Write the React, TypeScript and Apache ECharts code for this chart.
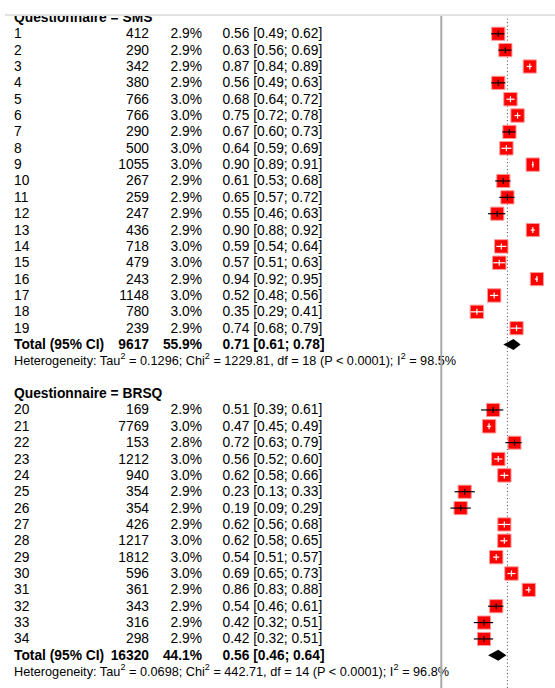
import React, { useEffect, useRef } from 'react';
import * as echarts from 'echarts';

// ---------- DATA ----------
const smsStudies = ['1', '2', '3', '4', '5', '6', '7', '8', '9', '10', '11', '12', '13', '14', '15', '16', '17', '18', '19'];
const smsTotal = [412, 290, 342, 380, 766, 766, 290, 500, 1055, 267, 259, 247, 436, 718, 479, 243, 1148, 780, 239];
const smsWeight = [2.9, 2.9, 2.9, 2.9, 3.0, 3.0, 2.9, 3.0, 3.0, 2.9, 2.9, 2.9, 2.9, 3.0, 3.0, 2.9, 3.0, 3.0, 2.9];
const smsCor = [0.56, 0.63, 0.87, 0.56, 0.68, 0.75, 0.67, 0.64, 0.90, 0.61, 0.65, 0.55, 0.90, 0.59, 0.57, 0.94, 0.52, 0.35, 0.74];
const smsLower = [0.49, 0.56, 0.84, 0.49, 0.64, 0.72, 0.60, 0.59, 0.89, 0.53, 0.57, 0.46, 0.88, 0.54, 0.51, 0.92, 0.48, 0.29, 0.68];
const smsUpper = [0.62, 0.69, 0.89, 0.63, 0.72, 0.78, 0.73, 0.69, 0.91, 0.68, 0.72, 0.63, 0.92, 0.64, 0.63, 0.95, 0.56, 0.41, 0.79];
const smsSummary = [9617, 55.9, 0.71, 0.61, 0.78]; // N, weight %, estimate, lower, upper
const smsHet = ['0.1296', '1229.81', '18', '< 0.0001', '98.5%']; // tau2, chi2, df, p, I2

const brsqStudies = ['20', '21', '22', '23', '24', '25', '26', '27', '28', '29', '30', '31', '32', '33', '34'];
const brsqTotal = [169, 7769, 153, 1212, 940, 354, 354, 426, 1217, 1812, 596, 361, 343, 316, 298];
const brsqWeight = [2.9, 3.0, 2.8, 3.0, 3.0, 2.9, 2.9, 2.9, 3.0, 3.0, 3.0, 2.9, 2.9, 2.9, 2.9];
const brsqCor = [0.51, 0.47, 0.72, 0.56, 0.62, 0.23, 0.19, 0.62, 0.62, 0.54, 0.69, 0.86, 0.54, 0.42, 0.42];
const brsqLower = [0.39, 0.45, 0.63, 0.52, 0.58, 0.13, 0.09, 0.56, 0.58, 0.51, 0.65, 0.83, 0.46, 0.32, 0.32];
const brsqUpper = [0.61, 0.49, 0.79, 0.60, 0.66, 0.33, 0.29, 0.68, 0.65, 0.57, 0.73, 0.88, 0.61, 0.51, 0.51];
const brsqSummary = [16320, 44.1, 0.56, 0.46, 0.64];
const brsqHet = ['0.0698', '442.71', '14', '< 0.0001', '96.8%'];

const groupNames = ['SMS', 'BRSQ'];
const nullValue = 0;
const overallEstimate = 0.65;

// ---------- LAYOUT CONSTANTS ----------
const FONT = '"Liberation Sans", Arial, Helvetica, sans-serif';
const ROW_FS = 13.8;
const HET_FS = 12.7;
const COL_LABEL = 14;
const COL_N = 149;
const COL_W = 202;
const COL_EST = 222.5;
const Y_MIN = -1;
const Y_MAX = 41;
const ROW_H = 16.63;
const GRID_TOP = 17.7 - ROW_H;
const GRID_H = (Y_MAX - Y_MIN) * ROW_H;
const PLOT_LEFT = 441.3;
const PX_PER_UNIT = 101.7;
const X_MAX = 1.1;

type Row = {
  i: number;
  kind: 'header' | 'study' | 'total' | 'het';
  label?: string;
  n?: number;
  w?: number;
  est?: number;
  lo?: number;
  hi?: number;
  het?: string[];
};

function buildRows(): Row[] {
  const groups = [
    { studies: smsStudies, total: smsTotal, weight: smsWeight, cor: smsCor, lower: smsLower, upper: smsUpper, summary: smsSummary, het: smsHet },
    { studies: brsqStudies, total: brsqTotal, weight: brsqWeight, cor: brsqCor, lower: brsqLower, upper: brsqUpper, summary: brsqSummary, het: brsqHet },
  ];
  const rows: Row[] = [];
  let idx = 0;
  groups.forEach((g, gi) => {
    if (gi > 0) idx += 1;
    rows.push({ i: idx++, kind: 'header', label: 'Questionnaire = ' + groupNames[gi] });
    g.studies.forEach((s, k) => {
      rows.push({ i: idx++, kind: 'study', label: s, n: g.total[k], w: g.weight[k], est: g.cor[k], lo: g.lower[k], hi: g.upper[k] });
    });
    rows.push({ i: idx++, kind: 'total', label: 'Total (95% CI)', n: g.summary[0], w: g.summary[1], est: g.summary[2], lo: g.summary[3], hi: g.summary[4] });
    rows.push({ i: idx++, kind: 'het', het: g.het });
  });
  return rows;
}

const fmtCI = (e: number, l: number, u: number) => `${e.toFixed(2)} [${l.toFixed(2)}; ${u.toFixed(2)}]`;

export default function App() {
  const ref = useRef<HTMLDivElement>(null);
  useEffect(() => {
    if (!ref.current) return;
    const chart = echarts.init(ref.current, undefined, { renderer: 'svg' });
    const rows = buildRows();
    const studyRows = rows.filter((r) => r.kind === 'study');
    const totalRows = rows.filter((r) => r.kind === 'total');

    const textRender = (params: any, api: any) => {
      const r = rows[params.dataIndex];
      const y = api.coord([0, r.i])[1];
      const cx = (v: number) => api.coord([v, r.i])[0];
      const children: any[] = [];
      const mk = (text: string, x: number, align: string, bold: boolean) => ({
        type: 'text',
        x,
        y,
        style: {
          text,
          fill: '#000',
          fontSize: ROW_FS,
          fontFamily: FONT,
          fontWeight: bold ? 'bold' : 'normal',
          align,
          verticalAlign: 'middle',
        },
      });
      if (r.kind === 'header') {
        children.push(mk(r.label!, cx(COL_LABEL), 'left', true));
      } else if (r.kind === 'study' || r.kind === 'total') {
        const b = r.kind === 'total';
        children.push(mk(r.label!, cx(COL_LABEL), 'left', b));
        children.push(mk(String(r.n), cx(COL_N), 'right', b));
        children.push(mk(r.w!.toFixed(1) + '%', cx(COL_W), 'right', b));
        children.push(mk(fmtCI(r.est!, r.lo!, r.hi!), cx(COL_EST), 'left', b));
      } else {
        const h = r.het!;
        const text =
          `{n|Heterogeneity: Tau}{s|2}{n| = ${h[0]}; Chi}{s|2}{n| = ${h[1]}, df = ${h[2]} (P ${h[3]}); I}{s|2}{n| = ${h[4]}}`;
        children.push({
          type: 'text',
          x: cx(COL_LABEL),
          y,
          style: {
            text,
            align: 'left',
            verticalAlign: 'middle',
            fontFamily: FONT,
            rich: {
              n: { fontSize: HET_FS, fontFamily: FONT, fill: '#000', lineHeight: 18, verticalAlign: 'middle' },
              s: { fontSize: 9, fontFamily: FONT, fill: '#000', lineHeight: 11, verticalAlign: 'top' },
            },
          },
        });
      }
      return { type: 'group', children };
    };

    const squareRender = (params: any, api: any) => {
      const est = api.value(0);
      const lo = api.value(1);
      const hi = api.value(2);
      const i = api.value(3);
      const w = api.value(4);
      const [x, y] = api.coord([est, i]);
      const xl = api.coord([lo, i])[0];
      const xh = api.coord([hi, i])[0];
      const s = 13.4 * Math.sqrt(w / 3.0);
      const inside = xh - xl < 13 * Math.sqrt(w / 3.0);
      const lineColor = inside ? '#ffffff' : '#000000';
      return {
        type: 'group',
        children: [
          {
            type: 'rect',
            shape: { x: x - s / 2, y: y - s / 2, width: s, height: s },
            style: { fill: '#ff0000', stroke: '#ff9a9a', lineWidth: 1 },
          },
          {
            type: 'line',
            shape: { x1: xl, y1: y, x2: xh, y2: y },
            style: { stroke: lineColor, lineWidth: 1.2 },
          },
          {
            type: 'line',
            shape: { x1: x, y1: y - 3, x2: x, y2: y + 3 },
            style: { stroke: lineColor, lineWidth: 1.2 },
          },
        ],
      };
    };

    const diamondRender = (params: any, api: any) => {
      const est = api.value(0);
      const lo = api.value(1);
      const hi = api.value(2);
      const i = api.value(3);
      const [x, y] = api.coord([est, i]);
      const xl = api.coord([lo, i])[0];
      const xh = api.coord([hi, i])[0];
      return {
        type: 'polygon',
        shape: { points: [[xl, y], [x, y - 5.5], [xh, y], [x, y + 5.5]] },
        style: { fill: '#000' },
      };
    };

    const vlineRender = (color: string, width: number, dash: any) => (params: any, api: any) => {
      const v = api.value(0);
      const p1 = api.coord([v, Y_MIN]);
      const p2 = api.coord([v, Y_MAX]);
      return {
        type: 'line',
        shape: { x1: p1[0], y1: p1[1], x2: p2[0], y2: p2[1] },
        style: { stroke: color, lineWidth: width, lineDash: dash },
      };
    };

    const yAxisBase = {
      type: 'value',
      min: Y_MIN,
      max: Y_MAX,
      inverse: true,
      show: false,
    };

    chart.setOption({
      animation: false,
      grid: [
        { left: 0, top: GRID_TOP, width: 555, height: GRID_H },
        { left: PLOT_LEFT, top: GRID_TOP, width: X_MAX * PX_PER_UNIT, height: GRID_H },
      ],
      xAxis: [
        { type: 'value', gridIndex: 0, min: 0, max: 555, show: false },
        { type: 'value', gridIndex: 1, min: 0, max: X_MAX, show: false },
      ],
      yAxis: [
        { ...yAxisBase, gridIndex: 0 },
        { ...yAxisBase, gridIndex: 1 },
      ],
      series: [
        {
          type: 'custom',
          xAxisIndex: 0,
          yAxisIndex: 0,
          z: 2,
          renderItem: textRender,
          data: rows.map((r) => [0, r.i]),
          encode: { x: 0, y: 1 },
          silent: true,
        },
        {
          type: 'custom',
          xAxisIndex: 1,
          yAxisIndex: 1,
          z: 3,
          renderItem: vlineRender('#444444', 1, [1, 2.5]),
          data: [[overallEstimate]],
          encode: { x: 0 },
          silent: true,
        },
        {
          type: 'custom',
          xAxisIndex: 1,
          yAxisIndex: 1,
          z: 4,
          renderItem: squareRender,
          data: studyRows.map((r) => [r.est, r.lo, r.hi, r.i, r.w]),
          encode: { x: [0, 1, 2], y: 3 },
          silent: true,
        },
        {
          type: 'custom',
          xAxisIndex: 1,
          yAxisIndex: 1,
          z: 4,
          renderItem: diamondRender,
          data: totalRows.map((r) => [r.est, r.lo, r.hi, r.i]),
          encode: { x: [0, 1, 2], y: 3 },
          silent: true,
        },
        {
          type: 'custom',
          xAxisIndex: 1,
          yAxisIndex: 1,
          z: 6,
          renderItem: vlineRender('#a8a8a8', 2, null),
          data: [[nullValue]],
          encode: { x: 0 },
          silent: true,
        },
      ],
      graphic: [
        { type: 'rect', z: 100, shape: { x: 0, y: 0, width: 555, height: 14 }, style: { fill: '#ffffff' } },
        { type: 'rect', z: 101, shape: { x: 5, y: 14, width: 550, height: 2 }, style: { fill: '#e2e2e2' } },
      ],
    });
    return () => chart.dispose();
  }, []);
  return <div ref={ref} style={{ position: 'fixed', left: 0, top: 0, width: 555, height: 688, background: '#fff' }} />;
}
